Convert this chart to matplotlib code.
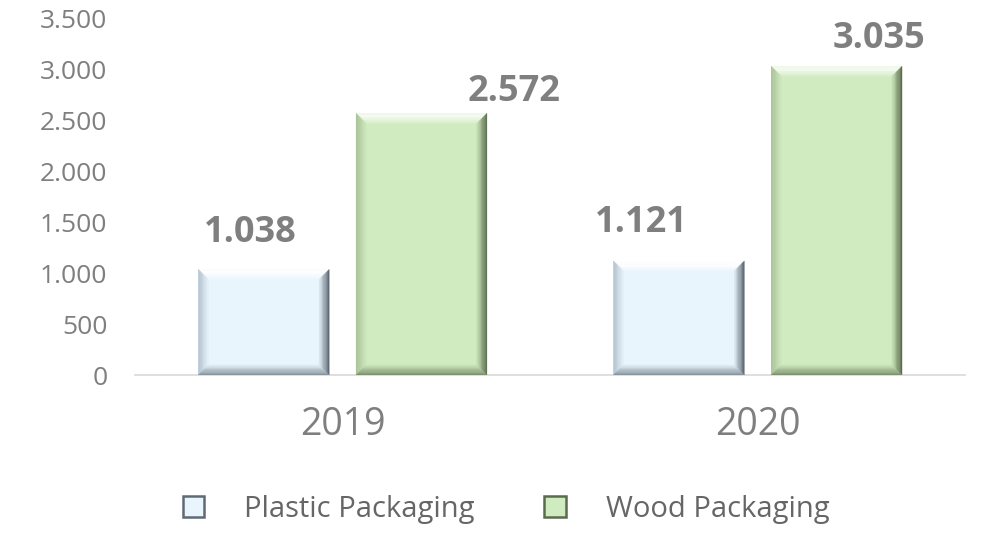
import matplotlib.pyplot as plt
from matplotlib.patches import Polygon, Patch
from matplotlib.ticker import FuncFormatter
from matplotlib.colors import to_rgb
import numpy as np

years = ['2019', '2020']
series = ['Plastic Packaging', 'Wood Packaging']
plastic = [1038, 1121]
wood = [2572, 3035]
value_labels = ['1.038', '1.121', '2.572', '3.035']

face = {'Plastic Packaging': '#e8f5fc', 'Wood Packaging': '#d0ebbf'}
light = {'Plastic Packaging': '#ffffff', 'Wood Packaging': '#f6fcf2'}
dark = {'Plastic Packaging': '#5f6a75', 'Wood Packaging': '#5a6b4e'}
mid = {'Plastic Packaging': '#b4c2cf', 'Wood Packaging': '#a9c197'}

plt.rcParams['font.family'] = ['Open Sans', 'DejaVu Sans']
gray = '#7f7f7f'

fig = plt.figure(figsize=(9.86, 5.35), dpi=100)
ax = fig.add_axes([0.137, 0.299, 0.842, 0.6655])

x = np.arange(len(years))
w = 0.315
off = 0.19
bars_p = ax.bar(x - off, plastic, w, color=face['Plastic Packaging'], zorder=2)
bars_w = ax.bar(x + off, wood, w, color=face['Wood Packaging'], zorder=2)

ax.set_xlim(-0.5, 1.5)
ax.set_ylim(0, 3500)
ax.set_yticks(np.arange(0, 3501, 500))
ax.yaxis.set_major_formatter(FuncFormatter(lambda v, p: '{:,.0f}'.format(v).replace(',', '.')))
ax.set_xticks(x)
ax.set_xticklabels(years)
ax.tick_params(axis='y', length=0, pad=20, labelsize=19, labelcolor=gray)
ax.tick_params(axis='x', length=0, pad=22, labelsize=27, labelcolor=gray)
for s in ['top', 'right', 'left']:
    ax.spines[s].set_visible(False)
ax.spines['bottom'].set_color('#d9d9d9')
ax.spines['bottom'].set_linewidth(1.2)

fig.canvas.draw()


def mix(c1, c2, t):
    a, b = np.array(to_rgb(c1)), np.array(to_rgb(c2))
    return tuple(a + (b - a) * t)


def bevel(bar, name, px=10, steps=8):
    # bevel edges drawn as thin trapezoid bands, fading into the face colour
    inv = ax.transData.inverted()
    x0, y0 = bar.get_x(), bar.get_y()
    x1, y1 = x0 + bar.get_width(), y0 + bar.get_height()
    dx0, dy0 = ax.transData.transform((x0, y0))
    bx = inv.transform((dx0 + px, dy0 + px))
    bw = (bx[0] - x0) / steps
    bh = (bx[1] - y0) / steps
    for i in range(steps):
        t = i / steps
        a0, a1 = i, i + 1
        sides = [
            ([(x0 + a0 * bw, y1 - a0 * bh), (x1 - a0 * bw, y1 - a0 * bh),
              (x1 - a1 * bw, y1 - a1 * bh), (x0 + a1 * bw, y1 - a1 * bh)],
             mix(light[name], face[name], t ** 2)),
            ([(x0 + a0 * bw, y0 + a0 * bh), (x0 + a0 * bw, y1 - a0 * bh),
              (x0 + a1 * bw, y1 - a1 * bh), (x0 + a1 * bw, y0 + a1 * bh)],
             mix(mid[name], face[name], t)),
            ([(x1 - a0 * bw, y0 + a0 * bh), (x1 - a0 * bw, y1 - a0 * bh),
              (x1 - a1 * bw, y1 - a1 * bh), (x1 - a1 * bw, y0 + a1 * bh)],
             mix(dark[name], face[name], t)),
            ([(x0 + a0 * bw, y0 + a0 * bh), (x1 - a0 * bw, y0 + a0 * bh),
              (x1 - a1 * bw, y0 + a1 * bh), (x0 + a1 * bw, y0 + a1 * bh)],
             mix(dark[name], face[name], 0.3 + 0.7 * t)),
        ]
        for pts, c in sides:
            ax.add_patch(Polygon(pts, closed=True, facecolor=c, edgecolor=c,
                                 linewidth=0.3, zorder=3))


for b in bars_p:
    bevel(b, 'Plastic Packaging')
for b in bars_w:
    bevel(b, 'Wood Packaging')

# label offsets in pixels (dx, dy) from bar top center
offsets = [(-13, 36), (-38, 38), (93, 21), (42, 27)]
all_bars = list(bars_p) + list(bars_w)
for b, txt, (dx, dy) in zip(all_bars, value_labels, offsets):
    ax.annotate(txt, (b.get_x() + b.get_width() / 2, b.get_height()),
                xytext=(dx, dy), textcoords='offset pixels',
                ha='center', va='center', fontsize=26, fontweight='bold', color=gray)

handles = [Patch(facecolor=face[s], edgecolor=dark[s], linewidth=1.8) for s in series]
fig.legend(handles, series, loc='center', bbox_to_anchor=(0.513, 0.048), ncol=2,
           frameon=False, fontsize=21, labelcolor='#666666', handlelength=0.75,
           handleheight=0.75, handletextpad=1.35, columnspacing=2.4)

fig.savefig('out.png', dpi=100)
